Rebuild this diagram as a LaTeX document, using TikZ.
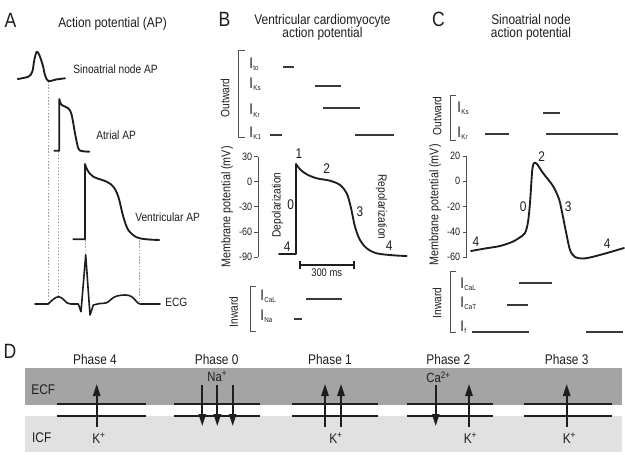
\documentclass[tikz,border=0pt]{standalone}
\usepackage{fontspec}
\setmainfont{Liberation Sans}[FakeStretch=0.85]
\usetikzlibrary{arrows.meta}
\definecolor{txt}{HTML}{1E1E1E}
\definecolor{barc}{HTML}{3A3A3A}
\definecolor{ecfc}{HTML}{A4A4A4}
\definecolor{icfc}{HTML}{E1E1E1}
\definecolor{axc}{HTML}{505050}
\newcommand{\Icur}[1]{I\kern0.4pt\raisebox{-2.2pt}{\fontsize{5.5}{6}\selectfont #1}}
\begin{document}
\begin{tikzpicture}[x=0.75pt,y=-0.75pt,
  every node/.style={inner sep=0pt,text=txt},
  panel/.style={font=\fontsize{15.5}{17}\selectfont},
  ttl/.style={font=\fontsize{10.5}{10}\selectfont,align=center},
  lbl/.style={font=\fontsize{9}{10}\selectfont},
  axlbl/.style={font=\fontsize{9.5}{10}\selectfont},
  num/.style={font=\fontsize{10.5}{11}\selectfont},
  tick/.style={font=\fontsize{8}{9}\selectfont},
  cur/.style={font=\fontsize{11.5}{12}\selectfont,anchor=base west},
  phs/.style={font=\fontsize{10.5}{11}\selectfont},
  curve/.style={draw=txt,line width=1.4pt,line join=round,line cap=round},
  barline/.style={draw=barc,line width=1.5pt},
  axis/.style={draw=axc,line width=0.7pt},
  brk/.style={draw=axc,line width=0.7pt},
  guide/.style={draw=gray!70,line width=0.5pt,dash pattern=on 1.2pt off 1.2pt},
  membr/.style={draw=txt,line width=1.1pt},
  ion/.style={draw=txt,line width=1.4pt,-{Triangle[length=9pt,width=5.5pt]}}
]
\useasboundingbox (0,0) rectangle (625,454);

% ---------------- Panel A ----------------
\node[panel] (pA) at (10.5,20.5) {A};
\node[ttl] (tA) at (112.5,24) {Action potential (AP)};
% guides
\draw[guide] (48.3,81) -- (48.3,302);
\draw[guide] (58.3,151) -- (58.3,297);
\draw[guide] (85.7,240) -- (85.7,256);
\draw[guide] (139,240) -- (139,303);
% SA node AP
\draw[curve] plot[smooth,tension=0.55] coordinates {(17.7,79) (28.3,76.7) (32.3,71.7) (34.3,60) (36.7,51.7) (39.3,55) (42.7,65) (45,75) (48.3,81) (56,79.5) (65,78.3)};
\node[lbl,anchor=west] (sa) at (73,69) {Sinoatrial node AP};
% Atrial AP
\draw[curve] (54.3,150.7) -- (59.3,150.7) -- (59.3,99)
  plot[smooth,tension=0.55] coordinates {(59.3,99) (61.7,105) (68.3,108.3) (71.7,115) (75,133.3) (78.3,148.3) (81.7,151) (89.3,151.7)};
\node[lbl,anchor=west] (at) at (96,135) {Atrial AP};
% Ventricular AP
\draw[curve] (73.3,239.3) -- (85,239.3) -- (85,164)
  plot[smooth,tension=0.55] coordinates {(85,164) (87.3,170) (93.3,176.7) (106.7,181.7) (113.3,186.7) (118.3,196.7) (123.3,216.7) (128.3,230) (136.7,237.3) (146.7,239.3) (159.3,240)};
\node[lbl,anchor=west] (va) at (135,217.5) {Ventricular AP};
% ECG
\draw[curve,line width=1.2pt] (35,304) -- (48.3,304)
  plot[smooth,tension=0.6] coordinates {(48.3,304) (53,299.5) (58.3,296.7) (63,299) (66.7,302.7) (71,304)}
  -- (78.3,304) -- (81,311.7) -- (85.7,255) -- (90,315) -- (93.3,305)
  plot[smooth,tension=0.6] coordinates {(93.3,305) (100,303.5) (106.7,302.7) (115,296.7) (125,295) (131.7,296.7) (138.3,303.3) (142,304)}
  -- (160,304);
\node[lbl,anchor=west] (ecg) at (165,302) {ECG};

% ---------------- Panel B ----------------
\node[panel] (pB) at (224.5,19) {B};
\node[ttl] (tB) at (322.5,27.5) {Ventricular cardiomyocyte\\action potential};
% outward
\draw[brk] (245,50) -- (238,50) -- (238,137) -- (245,137);
\node[lbl,rotate=90] (outB) at (225,98) {Outward};
\node[cur] (ito) at (249,68) {\Icur{to}};
\node[cur] (iks) at (249,88) {\Icur{Ks}};
\node[cur] (ikr) at (249,114.5) {\Icur{Kr}};
\node[cur] (ik1) at (249,137) {\Icur{K1}};
\draw[barline] (283,67) -- (294,67);
\draw[barline] (315,86) -- (341,86);
\draw[barline] (323,108) -- (360,108);
\draw[barline] (270,135) -- (282,135);
\draw[barline] (355,135) -- (394,135);
% axis
\draw[axis] (258,156.5) -- (258,257.3);
\foreach \v/\y [count=\i] in {30/156.5,0/181.7,-30/206.9,-60/232.1,-90/257.3}{
  \draw[axis] (254,\y) -- (258,\y);
  \node[tick,anchor=east] (tb\i) at (252.5,\y) {\v};
}
\node[axlbl,rotate=90] (mpB) at (227,207) {Membrane potential (mV)};
\node[lbl,rotate=90] (dep) at (277.5,205) {Depolarization};
\node[lbl,rotate=-90] (rep) at (381.5,207) {Repolarization};
% AP
\draw[curve] (279,254) -- (296,254) -- (296,164)
  plot[smooth,tension=0.55] coordinates {(296,164) (300,169.3) (306.7,174.3) (316.7,178.3) (330,180.7) (340,185) (346.7,193.3) (350.7,206.7) (355,226.7) (360,240) (366.7,248.3) (376.7,253.3) (393.3,255.3) (406.7,256)};
\node[num] (b1) at (299,154) {1};
\node[num] (b2) at (326.7,168.3) {2};
\node[num] (b0) at (290.7,205) {0};
\node[num] (b3) at (360,211.7) {3};
\node[num] (b4a) at (287.3,246.7) {4};
\node[num] (b4b) at (389.3,246) {4};
% scale bar
\draw[draw=txt,line width=0.9pt] (300,261) -- (300,269) (300,265) -- (354,265) (354,261) -- (354,269);
\node[tick,font=\fontsize{8.3}{9}\selectfont] (sb) at (326.7,273) {300 ms};
% inward
\draw[brk] (256,286) -- (250,286) -- (250,331) -- (256,331);
\node[lbl,rotate=90] (inB) at (233.5,312) {Inward};
\node[cur] (ical) at (260,300) {\Icur{CaL}};
\node[cur] (ina) at (260,320) {\Icur{Na}};
\draw[barline] (306,299) -- (341.7,299);
\draw[barline] (294,319.3) -- (301.7,319.3);

% ---------------- Panel C ----------------
\node[panel] (pC) at (438.5,19.5) {C};
\node[ttl] (tC) at (531,27.5) {Sinoatrial node\\action potential};
\draw[brk] (456,95) -- (450,95) -- (450,140) -- (456,140);
\node[lbl,rotate=90] (outC) at (437,116) {Outward};
\node[cur] (cks) at (457,112) {\Icur{Ks}};
\node[cur] (ckr) at (457,137) {\Icur{Kr}};
\draw[barline] (543,112.7) -- (560,112.7);
\draw[barline] (485,134.3) -- (509,134.3);
\draw[barline] (546,134.3) -- (618,134.3);
% axis
\draw[axis] (466.7,156) -- (466.7,257.3);
\foreach \v/\y [count=\i] in {20/156,0/181.3,-20/206.7,-40/232,-60/257.3}{
  \draw[axis] (462.5,\y) -- (466.7,\y);
  \node[tick,anchor=east] (tc\i) at (460.5,\y) {\v};
}
\node[axlbl,rotate=90] (mpC) at (435,205) {Membrane potential (mV)};
\draw[curve] plot[smooth,tension=0.5] coordinates {(471,251) (485,248.5) (500,246) (512,242) (519,238) (525,233) (528,222) (530,203) (531.5,180) (532.5,168) (534,163) (537,164) (543,173) (553,186) (559,199) (562,212) (566,232) (570,250) (575,257) (582,258.5) (590,257.5) (607,253) (624,248)};
\node[num] (c4a) at (476,241.7) {4};
\node[num] (c0) at (523.3,206.7) {0};
\node[num] (c2) at (541.7,156.7) {2};
\node[num] (c3) at (568.3,206.7) {3};
\node[num] (c4b) at (607.3,243.3) {4};
% inward
\draw[brk] (456,271.7) -- (450,271.7) -- (450,332.7) -- (456,332.7);
\node[lbl,rotate=90] (inC) at (437,303) {Inward};
\node[cur] (ccal) at (460,288) {\Icur{CaL}};
\node[cur] (ccat) at (460,307) {\Icur{CaT}};
\node[cur] (cf) at (460,331) {\Icur{f}};
\draw[barline] (519,282.7) -- (552,282.7);
\draw[barline] (507,305) -- (528,305);
\draw[barline] (472,331.7) -- (529,331.7);
\draw[barline] (586,331.7) -- (623,331.7);

% ---------------- Panel D ----------------
\node[panel] (pD) at (10,351) {D};
\fill[ecfc] (25,368) rectangle (622,405);
\fill[icfc] (25,416) rectangle (622,452);
\node[phs] (ecf) at (43.3,390) {ECF};
\node[phs] (icf) at (41.7,437.3) {ICF};
\foreach \n/\x in {4/95,0/216.7,1/330,2/448.3,3/566.7}{
  \node[phs] (ph\n) at (\x,359) {Phase \n};
}
\foreach \a/\b [count=\i] in {57/146,174/260,292/378,407/493,524/612}{
  \draw[membr] (\a,404) -- (\b,404) (\a,416) -- (\b,416);
}
% Phase 4
\draw[ion] (96.7,427) -- (96.7,384);
\node[phs] (k4) at (99,438.3) {K\textsuperscript{+}};
% Phase 0
\node[phs,font=\fontsize{10}{11}\selectfont] (na) at (217.3,376.7) {Na\textsuperscript{+}};
\draw[ion] (202.3,385) -- (202.3,426);
\draw[ion] (217.3,385) -- (217.3,426);
\draw[ion] (232.7,385) -- (232.7,426);
% Phase 1
\draw[ion] (325,427) -- (325,384);
\draw[ion] (341,427) -- (341,384);
\node[phs] (k1) at (336,438.3) {K\textsuperscript{+}};
% Phase 2
\node[phs,font=\fontsize{10}{11}\selectfont] (ca) at (438.5,377.3) {Ca\textsuperscript{2+}};
\draw[ion] (435.7,385) -- (435.7,426);
\draw[ion] (469,427) -- (469,384);
\node[phs] (k2) at (470.5,438.3) {K\textsuperscript{+}};
% Phase 3
\draw[ion] (566.7,427) -- (566.7,384);
\node[phs] (k3) at (569.5,438.3) {K\textsuperscript{+}};
\end{tikzpicture}
\end{document}
